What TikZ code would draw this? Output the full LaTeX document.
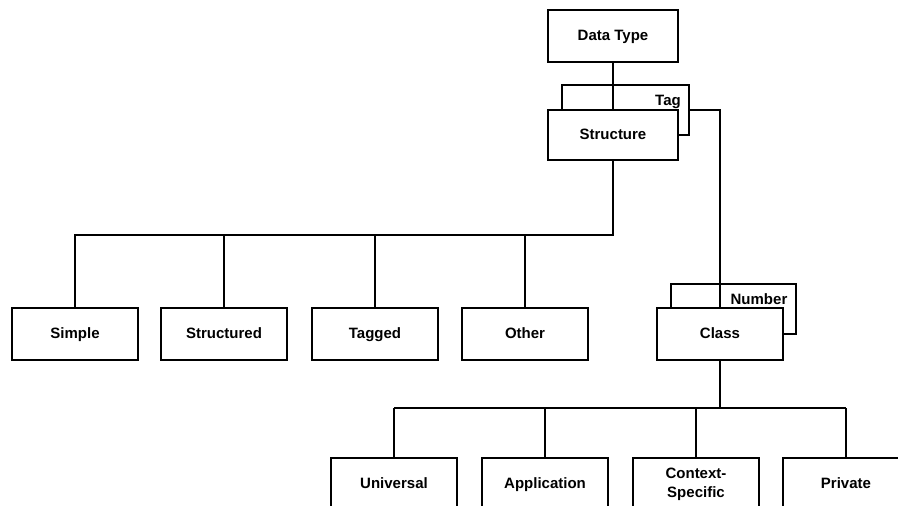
\documentclass[tikz,border=0pt]{standalone}
\usepackage{fontspec}
\setsansfont{Liberation Sans}
\usetikzlibrary{positioning}

\begin{document}
\begin{tikzpicture}[x=1pt, y=-1pt,
    plain/.style={draw, fill=white, line width=2pt, minimum width=126pt, minimum height=52pt, inner sep=0pt, align=center, font=\sffamily\bfseries\fontsize{15}{18}\selectfont},
    box/.style={plain, text height=11pt, text depth=3pt},
    lbl/.style={inner sep=0pt, text height=11pt, text depth=3pt, font=\sffamily\bfseries\fontsize{15}{18}\selectfont},
    link/.style={line width=2pt}]
  \clip (0,0) rectangle (898,506);
  % top
  \node[box, minimum width=130pt] (dtype) at (613,36) {Data Type};
  \node[box, minimum width=127pt, minimum height=50pt] (tag) at (625.5,110) {};
  \node[lbl] (taglbl) at (668,101) {Tag};
  \node[box, minimum width=130pt, minimum height=50pt] (struct) at (613,135) {Structure};
  % second row
  \node[box] (simple) at (75,334) {Simple};
  \node[box] (structd) at (224,334) {Structured};
  \node[box] (tagged) at (375,334) {Tagged};
  \node[box] (other) at (525,334) {Other};
  \node[box, minimum width=125pt, minimum height=50pt] (numbr) at (733.5,309) {};
  \node[lbl] (numlbl) at (759,300) {Number};
  \node[box] (class) at (720,334) {Class};
  % bottom row
  \node[box] (univ) at (394,484) {Universal};
  \node[box] (appl) at (545,484) {Application};
  \node[plain] (ctx) at (696,484) {Context-\\[1pt]Specific};
  \node[box] (priv) at (846,484) {Private};
  % links
  \coordinate (busA) at (613,235);
  \coordinate (busB) at (720,408);
  \draw[link] (dtype) -- (struct);
  \draw[link] (tag.east) -| (class.north);
  \draw[link] (struct.south) -- (busA) -- (busA -| simple.north) -- (simple.north);
  \draw[link] (busA -| structd.north) -- (structd.north);
  \draw[link] (busA -| tagged.north) -- (tagged.north);
  \draw[link] (busA -| other.north) -- (other.north);
  \draw[link] (class.south) -- (busB);
  \draw[link] (busB -| univ.north) -- (busB -| priv.north);
  \draw[link] (busB -| univ.north) -- (univ.north);
  \draw[link] (busB -| appl.north) -- (appl.north);
  \draw[link] (busB -| ctx.north) -- (ctx.north);
  \draw[link] (busB -| priv.north) -- (priv.north);
\end{tikzpicture}
\end{document}
